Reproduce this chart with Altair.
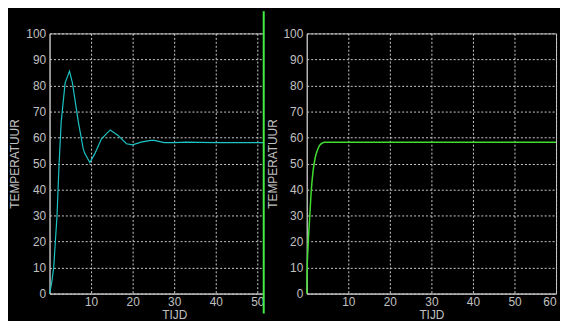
import altair as alt
import pandas as pd

# ---- data ----
left_t = [0, 0.5, 1.0, 1.8, 2.3, 2.8, 3.75, 4.8, 5.5, 6.95, 8.1, 8.5, 9.7, 10.9,
          12.5, 14.6, 16.5, 18.5, 20.0, 22.0, 24.4, 25.2, 27.6, 30, 33, 36, 40, 50, 60]
left_T = [0, 4, 10, 30, 50, 66, 81, 85.5, 81, 65.8, 55.7, 53.8, 50.4, 53.8,
          59.5, 62.9, 60.8, 57.6, 57.2, 58.2, 58.9, 58.9, 58.0, 58.0, 58.2, 58.1, 58.0, 58.0, 58.0]

right_t = [0, 0.05, 0.3, 0.7, 1.1, 1.5, 2.07, 2.6, 3.1, 3.7, 4.3, 5.5, 10, 20, 30, 40, 50, 60]
right_T = [0, 6.3, 17.7, 29, 39.9, 46.8, 52.5, 55.3, 57.0, 57.8, 58.2, 58.2, 58.2, 58.2,
           58.2, 58.2, 58.2, 58.2]

x_ticks_left = [10, 20, 30, 40, 50]
x_ticks_right = [10, 20, 30, 40, 50, 60]
y_ticks = [0, 10, 20, 30, 40, 50, 60, 70, 80, 90, 100]
x_title = "TIJD"
y_title = "TEMPERATUUR"

W, H = 252, 263
GRAY = "#c0c0c0"
FONT = "Liberation Sans"

left_df = pd.DataFrame({"t": left_t, "T": left_T})
right_df = pd.DataFrame({"t": right_t, "T": right_T})
one = pd.DataFrame({"k": [0]})

xscale = alt.Scale(domain=[0, 60], nice=False, zero=False)
yscale = alt.Scale(domain=[0, 100], nice=False)


def xaxis(vals, flush=False):
    return alt.Axis(values=vals, title=x_title, labelFlush=flush, labelOverlap=False)


def yaxis():
    return alt.Axis(values=y_ticks, title=y_title, labelOverlap=False)


# left window (invisible frame fixes the origin of the drawing)
frame = alt.Chart(one).mark_rect(opacity=0).encode(
    x=alt.value(-39.5), x2=alt.value(W), y=alt.value(-22.5), y2=alt.value(H)
)
left_line = alt.Chart(left_df).mark_line(color="#1cc4c4", strokeWidth=1.2).encode(
    x=alt.X("t:Q", scale=xscale, axis=xaxis(x_ticks_left)),
    y=alt.Y("T:Q", scale=yscale, axis=yaxis()),
)
cover = alt.Chart(one).mark_rect(color="black").encode(
    x=alt.value(216.5), x2=alt.value(W + 8), y=alt.value(-22.5), y2=alt.value(H + 20)
)
border = alt.Chart(one).mark_rule(color="#44ee44", strokeWidth=2).encode(
    x=alt.value(216.5), y=alt.value(-22.5), y2=alt.value(H + 20)
)
left = alt.layer(frame, left_line, cover, border).properties(width=W, height=H)

# right window
right_line = alt.Chart(right_df).mark_line(
    color="#40dd30", strokeWidth=1.5, interpolate="monotone"
).encode(
    x=alt.X("t:Q", scale=xscale, axis=xaxis(x_ticks_right, flush=True)),
    y=alt.Y("T:Q", scale=yscale, axis=yaxis()),
)
right = alt.layer(right_line).properties(width=W, height=H)

chart = alt.hconcat(left, right, spacing=8, bounds="flush").properties(
    background="black",
    padding={"left": 0, "top": 0, "right": 0, "bottom": -2.5},
).configure_view(
    stroke=GRAY, strokeWidth=1, fill=None
).configure_axis(
    labelFont=FONT, labelFontSize=12, labelColor=GRAY, labelPadding=3,
    titleFont=FONT, titleFontSize=12, titleFontWeight="normal", titleColor=GRAY,
    domainColor=GRAY, domainWidth=1, ticks=False,
    gridColor="#cccccc", gridDash=[2, 2], gridOpacity=1, gridWidth=1,
).configure_axisY(
    labelPadding=4, titlePadding=4
).configure_axisX(
    titlePadding=2
)

chart.save("out.html", embed_options={"renderer": "svg", "actions": False})
